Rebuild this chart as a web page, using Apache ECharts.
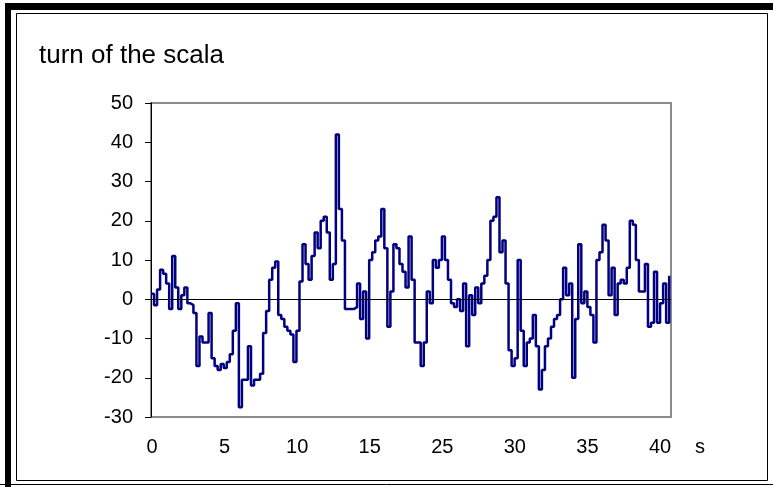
<!DOCTYPE html>
<html>
<head>
<meta charset="utf-8">
<script src="https://cdn.jsdelivr.net/npm/echarts@6/dist/echarts.min.js"></script>
<style>
  html, body { margin: 0; padding: 0; background: #fff; }
  #chart { width: 773px; height: 487px; }
</style>
</head>
<body>
<div id="chart"></div>
<script>
// x axis labels, evenly spaced under the plot (as printed, no "20")
const xLabels = ['0', '5', '10', '15', '25', '30', '35', '40'];

// y ticks
const yMin = -30, yMax = 50, yStep = 10;

// turn of the scala, one value per sample
const turn = [
  1.4, -1.5, 2.5, 7.5, 6.5, 4, -2.5, 11, 3, -2.5,
  1, 3, -1, -1.5, -3.5, -17, -9.5, -11, -11, -3.5,
  -15, -17, -18, -16.5, -17.5, -16, -14, -8, -1, -27.5,
  -20.5, -20.5, -12, -22, -20.5, -20.5, -19, -8.6, -3, 5,
  8, 9.6, -4, -5, -7, -8, -9, -16, -8, 4.5,
  14, 9, 5, 11, 17, 13, 20, 21, 17, 5,
  9, 42, 23, 15, -2.5, -2.5, -2.5, -2, 4, -5,
  2, -10, 10, 12, 15, 16, 23, 13, -7, 2,
  14, 13, 9, 7, 3, 16, 5, -11, -11, -17,
  -11, 2, -1, 10, 8, 10, 16, 10, 5, -1,
  -2, 0, -3, 4, -12, 1, -4, 3, -1, 4,
  6, 10, 20, 21, 26, 12, 15, 4, -13, -17,
  -15, 10, -8, -17, -11, -10, -4, -12, -23, -18,
  -12, -10, -7, -5, -4, 0, 8, 1, 4, -20,
  -5, 14, -1, 2, -2, -4, -11, 10, 12, 19,
  15, 1, 8, -4, 4, 5, 4, 8, 20, 19,
  10, 2, 2, 9, -7, -6, 7, -6, -1, 4,
  -6, 6
];

const seriesData = turn.map((v, i) => [i, v]);

const font = '"Liberation Sans", Arial, sans-serif';

const myChart = echarts.init(document.getElementById('chart'));

const option = {
  animation: false,
  backgroundColor: '#fff',
  title: {
    text: 'turn of the scala',
    left: 39,
    top: 43,
    padding: 0,
    textStyle: { fontFamily: font, fontSize: 26, fontWeight: 'normal', color: '#000' }
  },
  grid: [
    {
      // plot area
      left: 151, top: 103, right: 102, bottom: 70,
      containLabel: false,
      outerBoundsMode: 'none',
      show: true,
      borderColor: '#8c8c8c',
      borderWidth: 2,
      backgroundColor: 'transparent'
    },
    {
      // only carries the printed x labels (last one sits before the plot end)
      left: 152, top: 103, right: 113, bottom: 70,
      containLabel: false,
      outerBoundsMode: 'none',
      show: false
    }
  ],
  xAxis: [
    {
      type: 'value',
      gridIndex: 0,
      min: 0,
      max: 171.6,
      name: 's',
      nameLocation: 'end',
      nameGap: 24,
      nameTextStyle: { fontFamily: font, fontSize: 20, color: '#000', verticalAlign: 'top', padding: [20, 0, 0, 0] },
      axisLine: { show: false, onZero: false },
      axisTick: { show: false },
      splitLine: { show: false },
      axisLabel: { show: false }
    },
    {
      type: 'category',
      gridIndex: 1,
      data: xLabels,
      boundaryGap: false,
      axisLine: { show: false, onZero: false },
      axisTick: { show: false },
      splitLine: { show: false },
      axisLabel: { interval: 0, margin: 20, fontFamily: font, fontSize: 20, color: '#000' }
    }
  ],
  yAxis: [
    {
      type: 'value',
      gridIndex: 0,
      min: yMin,
      max: yMax,
      interval: yStep,
      axisLine: { show: true, lineStyle: { color: '#000', width: 1 } },
      axisTick: { show: true, inside: false, length: 6, lineStyle: { color: '#000', width: 1 } },
      splitLine: { show: false },
      axisLabel: { margin: 18, fontFamily: font, fontSize: 20, color: '#000' }
    },
    { type: 'value', gridIndex: 1, show: false }
  ],
  series: [{
    type: 'line',
    xAxisIndex: 0,
    yAxisIndex: 0,
    step: 'end',
    data: seriesData,
    showSymbol: false,
    symbol: 'none',
    sampling: null,
    lineStyle: { color: '#000080', width: 2.5 },
    markLine: {
      silent: true,
      symbol: 'none',
      label: { show: false },
      lineStyle: { color: '#000', type: 'solid', width: 1 },
      data: [{ yAxis: 0 }]
    },
    z: 3
  }],
  // frame around the whole chart
  graphic: [
    { type: 'rect', shape: { x: 5, y: 3, width: 768, height: 7 }, style: { fill: '#000' }, silent: true },
    { type: 'rect', shape: { x: 5, y: 3, width: 6, height: 484 }, style: { fill: '#000' }, silent: true },
    { type: 'rect', shape: { x: 16.5, y: 13.5, width: 751, height: 467 }, style: { fill: 'none', stroke: '#000', lineWidth: 1 }, silent: true },
    { type: 'line', shape: { x1: 0, y1: 484.5, x2: 773, y2: 484.5 }, style: { stroke: '#000', lineWidth: 1 }, silent: true }
  ]
};

myChart.setOption(option);
</script>
</body>
</html>
